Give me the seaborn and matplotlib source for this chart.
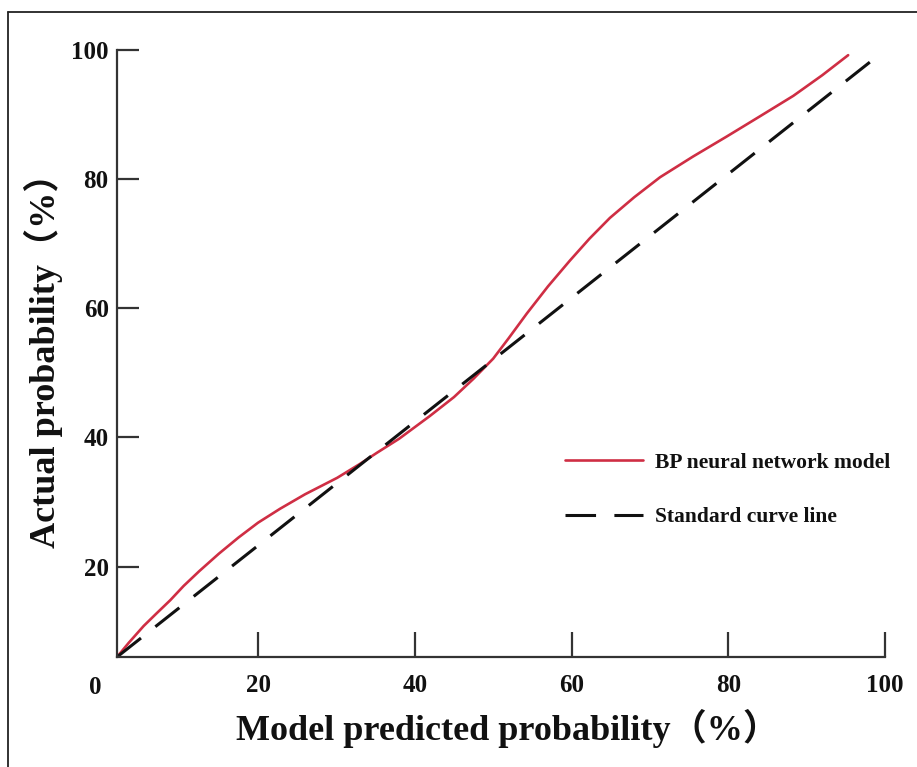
import matplotlib
matplotlib.use("Agg")
import matplotlib.pyplot as plt
from matplotlib.lines import Line2D
import seaborn as sns
import pandas as pd

# ---- data ----
bp_x = [2, 3.5, 5.4, 7, 8.8, 10.5, 12.5, 15, 17.5, 20, 22.8, 26, 30.1, 33,
        35.2, 38, 41.9, 45, 47.5, 50, 52, 54.3, 57, 59.8, 62.3, 64.9, 68,
        71.3, 75.5, 79.8, 84, 88.3, 92, 95.3]
bp_y = [6.0, 8.2, 10.8, 12.7, 14.8, 17.0, 19.3, 22.0, 24.5, 26.8, 28.95,
        31.2, 33.75, 35.9, 37.65, 39.8, 43.3, 46.25, 49.1, 52.2, 55.4, 59.2,
        63.4, 67.4, 70.8, 74.0, 77.2, 80.3, 83.5, 86.6, 89.7, 92.9, 96.1, 99.2]
std_x = [2, 99.3]
std_y = [6, 99.3]
x_ticks = [20, 40, 60, 80, 100]
y_ticks = [20, 40, 60, 80, 100]
series_names = ["BP neural network model", "Standard curve line"]
x_label = "Model predicted probability\uff08%\uff09"
y_label = "Actual probability\uff08%\uff09"

df = pd.concat([
    pd.DataFrame({"x": bp_x, "y": bp_y, "series": series_names[0]}),
    pd.DataFrame({"x": std_x, "y": std_y, "series": series_names[1]}),
])

sns.set_theme(style="white")
plt.rcParams["font.family"] = ["Liberation Serif", "Noto Sans CJK SC", "DejaVu Sans"]
plt.rcParams["font.weight"] = "bold"
plt.rcParams["text.color"] = "#111111"
plt.rcParams["xtick.color"] = "#333333"
plt.rcParams["ytick.color"] = "#333333"
plt.rcParams["xtick.labelcolor"] = "#111111"
plt.rcParams["ytick.labelcolor"] = "#111111"

W, H = 917, 767
fig = plt.figure(figsize=(W / 100, H / 100), dpi=100)
ax = fig.add_axes([117 / W, 1 - 657 / H, (885 - 117) / W, (657 - 50) / H])

red = "#cf2e44"
sns.lineplot(data=df[df.series == series_names[0]], x="x", y="y", ax=ax,
             color=red, lw=1.9, sort=False, estimator=None,
             label=series_names[0])
sns.lineplot(data=df[df.series == series_names[1]], x="x", y="y", ax=ax,
             color="#111111", lw=2.2, sort=False, estimator=None,
             label=series_names[1])
ax.lines[1].set_dashes([10, 6])

ax.set_xlim(2, 100)
ax.set_ylim(6, 100)
ax.set_xticks(x_ticks)
ax.set_yticks(y_ticks)
ax.set_xticklabels([str(v) for v in x_ticks], fontsize=18, fontweight="bold")
ax.set_yticklabels([str(v) for v in y_ticks], fontsize=18, fontweight="bold")
ax.tick_params(axis="x", bottom=True, direction="in", length=18, width=1.6, pad=12)
ax.tick_params(axis="y", left=True, direction="in", length=16, width=1.6, pad=6)
for s in ["top", "right"]:
    ax.spines[s].set_visible(False)
for s in ["left", "bottom"]:
    ax.spines[s].set_linewidth(1.6)
    ax.spines[s].set_color("#333333")

# corner "0" label
ax.text(-0.8, 3.0, "0", transform=ax.transData, ha="center", va="top",
        fontsize=18, fontweight="bold", clip_on=False)

ax.set_xlabel("")
ax.set_ylabel("")
fig.text(508 / W, 1 - 728 / H, x_label, ha="center", va="center",
         fontsize=26, fontweight="bold")
fig.text(43 / W, 1 - 352 / H, y_label, ha="center", va="center",
         rotation=90, fontsize=26, fontweight="bold")

leg = ax.legend(loc="center left", bbox_to_anchor=(565 / W, 1 - 490 / H),
                bbox_transform=fig.transFigure, frameon=False, fontsize=15.5,
                handlelength=3.6, handletextpad=0.6, labelspacing=1.6,
                borderpad=0, borderaxespad=0)
for t in leg.get_texts():
    t.set_fontweight("bold")

# figure border (top and left visible)
fig.add_artist(Line2D([8 / W, 1], [1 - 12 / H, 1 - 12 / H], transform=fig.transFigure,
                      color="#222222", lw=1.3))
fig.add_artist(Line2D([8 / W, 8 / W], [0, 1 - 12 / H], transform=fig.transFigure,
                      color="#222222", lw=1.3))

fig.savefig("out.png", dpi=100)
